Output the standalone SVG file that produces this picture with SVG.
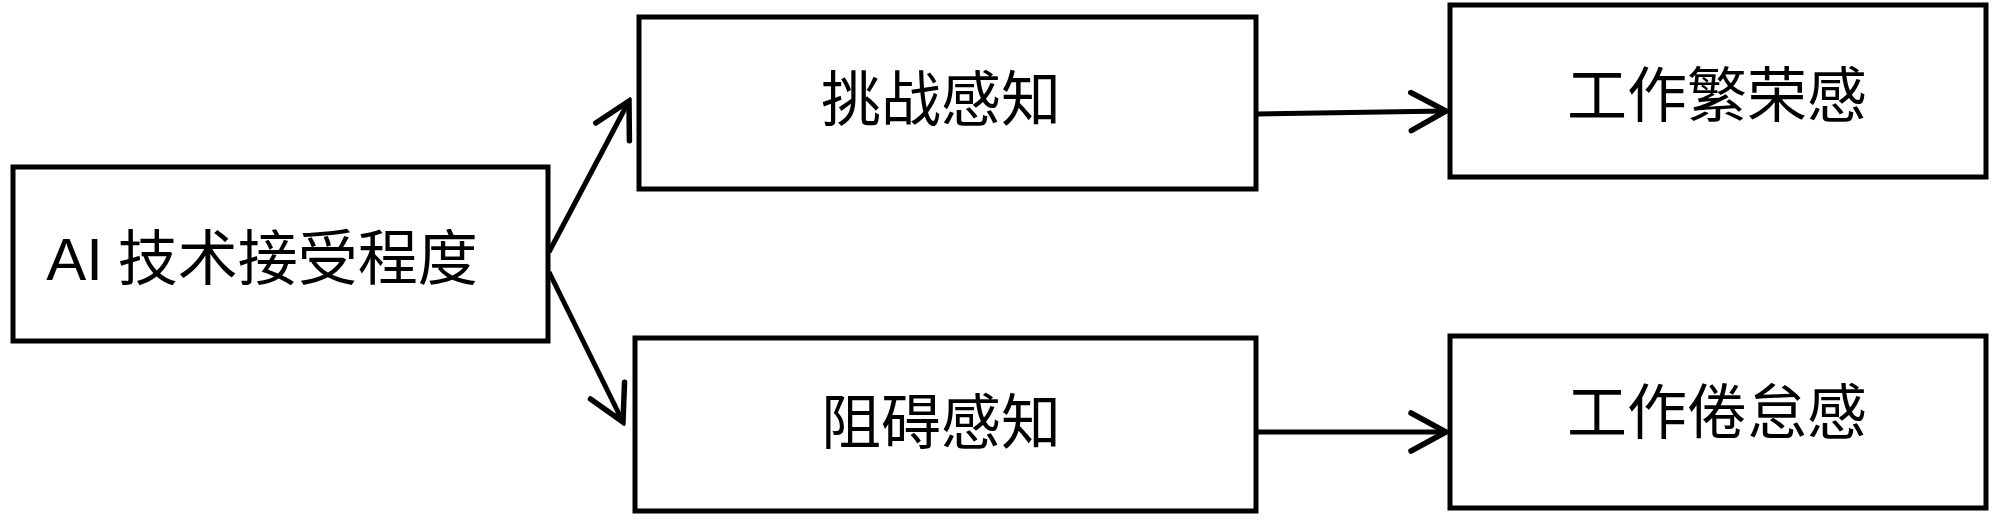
<svg xmlns="http://www.w3.org/2000/svg" width="2000" height="531" viewBox="0 0 2000 531">
<style>
.box{fill:#fff;stroke:#000;stroke-width:5}
.lbl{font-family:"Liberation Serif","Noto Sans CJK SC",serif;font-size:60px;fill:#000;text-anchor:middle}
.ai{font-family:"Liberation Sans","Noto Sans CJK SC",sans-serif}
.edge{fill:none;stroke:#000;stroke-width:5}
</style>
<defs>
<marker id="ah" markerUnits="userSpaceOnUse" viewBox="-42 -24 46 48" refX="0" refY="0" markerWidth="46" markerHeight="48" orient="auto">
<path d="M-35,-19 L0,0 L-35,19" fill="none" stroke="#000" stroke-width="5.5" stroke-linecap="round"/>
</marker>
</defs>
<rect width="2000" height="531" fill="#fff"/>
<g id="connectors">
<line class="edge" x1="549" y1="252" x2="629" y2="101" marker-end="url(#ah)"/>
<line class="edge" x1="549" y1="272" x2="623" y2="422" marker-end="url(#ah)"/>
<line class="edge" x1="1257" y1="114" x2="1446" y2="111" marker-end="url(#ah)"/>
<line class="edge" x1="1257" y1="432" x2="1446" y2="432" marker-end="url(#ah)"/>
</g>
<g id="node-ai">
<rect class="box" x="13" y="167" width="535" height="174"/>
<text class="lbl" x="262" y="280"><tspan class="ai">AI</tspan> 技术接受程度</text>
</g>
<g id="node-challenge">
<rect class="box" x="639" y="17" width="617" height="172"/>
<text class="lbl" x="941" y="121">挑战感知</text>
</g>
<g id="node-hindrance">
<rect class="box" x="635" y="338" width="621" height="173"/>
<text class="lbl" x="941" y="444">阻碍感知</text>
</g>
<g id="node-thriving">
<rect class="box" x="1450" y="5" width="536" height="172"/>
<text class="lbl" x="1717" y="117">工作繁荣感</text>
</g>
<g id="node-burnout">
<rect class="box" x="1450" y="336" width="536" height="172"/>
<text class="lbl" x="1717" y="434">工作倦怠感</text>
</g>
</svg>
